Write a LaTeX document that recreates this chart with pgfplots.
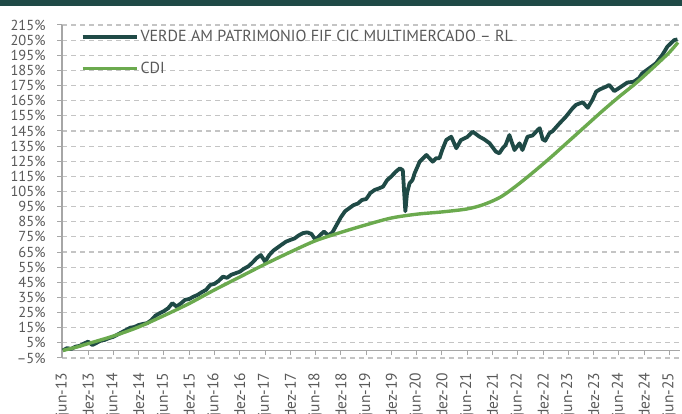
\documentclass[border=0pt]{standalone}
\usepackage{fontspec}
\setmainfont{PT Sans}
\usepackage{pgfplots}
\usepackage{pgfplotstable}
\pgfplotsset{compat=1.18}
\definecolor{vdark}{HTML}{1F4A46}
\definecolor{cdig}{HTML}{6BAA4E}
\definecolor{gridc}{HTML}{C4C4C4}
\definecolor{axc}{HTML}{A6A6A6}
\definecolor{txt}{HTML}{595959}

\pgfplotstableread{
m v
0 0
1 1.5
2 1
3 2.5
4 3
5 4.5
6 5.8
7 3.6
8 5
9 6.5
10 7
11 8.2
12 9
13 10.5
14 12
15 13.5
16 15
17 15.5
18 16.8
19 17.5
20 18
21 20
22 23
23 24.6
24 26
25 27.9
26 31.2
27 29
28 31
29 33.4
30 34
31 35.5
32 36.7
33 38.5
34 40
35 43.3
36 44
37 46
38 48.7
39 48
40 50
41 51
42 52
43 54
44 55.5
45 58
46 61
47 63
48 58.7
49 63
50 66
51 68
52 70
53 71.9
54 73
55 74
56 76
57 77.5
58 78
59 77
60 73
61 76
62 78.5
63 76
64 78
65 83
66 88
67 92
68 94
69 96
70 97
71 99.4
72 100
73 104
74 106
75 107
76 108.2
77 112.6
78 115
79 118
80 120.3
80.7 119
81.3 92
81.7 104
82.3 110.4
83 112.6
83.5 117
84.7 124.7
86.3 129.1
87.8 124.7
88.6 127
89.4 127
90 132
91 139
92.2 141.2
93.4 133.6
94.5 139
96 141
97.3 144.5
98.9 141.2
100 139.5
101.3 136.9
102.8 131.3
103.6 130.2
104.4 133.6
105.1 135.7
106 142.3
107.2 132.4
108.4 136.8
109.1 132.4
110.3 141.2
111.5 142
112.7 145.6
113.2 146.8
113.9 139.5
114.5 138.5
115.5 143.5
116.3 145
117.9 150
119.4 154.4
121 160
121.8 162.2
123.4 164
124.6 160.3
125.7 165.5
126.6 171
127.5 172.5
128.9 174.2
129.7 175.4
130.9 171.3
132.5 174.2
134 177
135.5 177.5
136.8 180
137.5 183
139.2 186.4
140.8 189.7
142.3 195.2
143.5 200.7
145.1 205
145.9 205.5
}\fundtable

\pgfplotstableread{
m v
0 0
3 2
6 4.5
12 9.5
18 15.5
24 23
30 31
36 40
42 48.5
48 57
54 65
60 72.5
66 78
72 83
78 87.5
84 90
90 91.5
96 93.5
100 96.5
104 101.5
108 109.5
112 118.5
116 128
120 138
124 148
128 158
132 167.5
136 176.5
140 186.5
144 197
146 203.5
}\cditable

\begin{document}
\begin{tikzpicture}[x=1pt,y=1pt]
\useasboundingbox (0,0) rectangle (682,414);
\clip (0,0) rectangle (682,414);
\fill[vdark] (0,408) rectangle (682,414);
\begin{axis}[
  at={(62pt,56pt)}, anchor=south west,
  scale only axis, width=618pt, height=333pt,
  xmin=-0.2, xmax=146.5, ymin=-5, ymax=215,
  axis x line*=middle, axis y line*=left,
  axis line style={draw=axc, line width=1.2pt, -},
  hide obscured x ticks=false,
  tick align=outside, major tick length=5pt,
  tick style={draw=axc, line width=1pt},
  ytick={-5,5,...,215},
  yticklabels={–5\%,5\%,15\%,25\%,35\%,45\%,55\%,65\%,75\%,85\%,95\%,105\%,115\%,125\%,135\%,145\%,155\%,165\%,175\%,185\%,195\%,205\%,215\%},
  xtick={0,6,...,144},
  xticklabels={jun-13,dez-13,jun-14,dez-14,jun-15,dez-15,jun-16,dez-16,jun-17,dez-17,jun-18,dez-18,jun-19,dez-19,jun-20,dez-20,jun-21,dez-21,jun-22,dez-22,jun-23,dez-23,jun-24,dez-24,jun-25},
  yticklabel style={font=\fontsize{14.5}{16}\selectfont, text=txt, xshift=-8pt},
  xticklabel style={font=\fontsize{15.5}{17}\selectfont, text=txt, rotate=90, anchor=east},
  xticklabel shift=14pt,
  ymajorgrids,
  grid style={draw=gridc, line width=1.1pt, dash pattern=on 5pt off 4pt},
  legend style={draw=none, fill=none, at={(rel axis cs:0.03,1.0)}, anchor=north west, yshift=-3pt,
    font=\fontsize{16}{18}\selectfont, text=txt, row sep=15pt, inner sep=0pt},
  legend cell align=left,
  legend image code/.code={\draw[#1] (0pt,0pt) -- (54pt,0pt);},
]
\addplot[draw=vdark, line width=3.8pt, line join=round] table[x=m,y=v] {\fundtable};
\addlegendentry{VERDE AM PATRIMONIO FIF CIC MULTIMERCADO – RL}
\addplot[draw=cdig, line width=3.4pt, smooth, line join=round] table[x=m,y=v] {\cditable};
\addlegendentry{CDI}
\end{axis}
\end{tikzpicture}
\end{document}
